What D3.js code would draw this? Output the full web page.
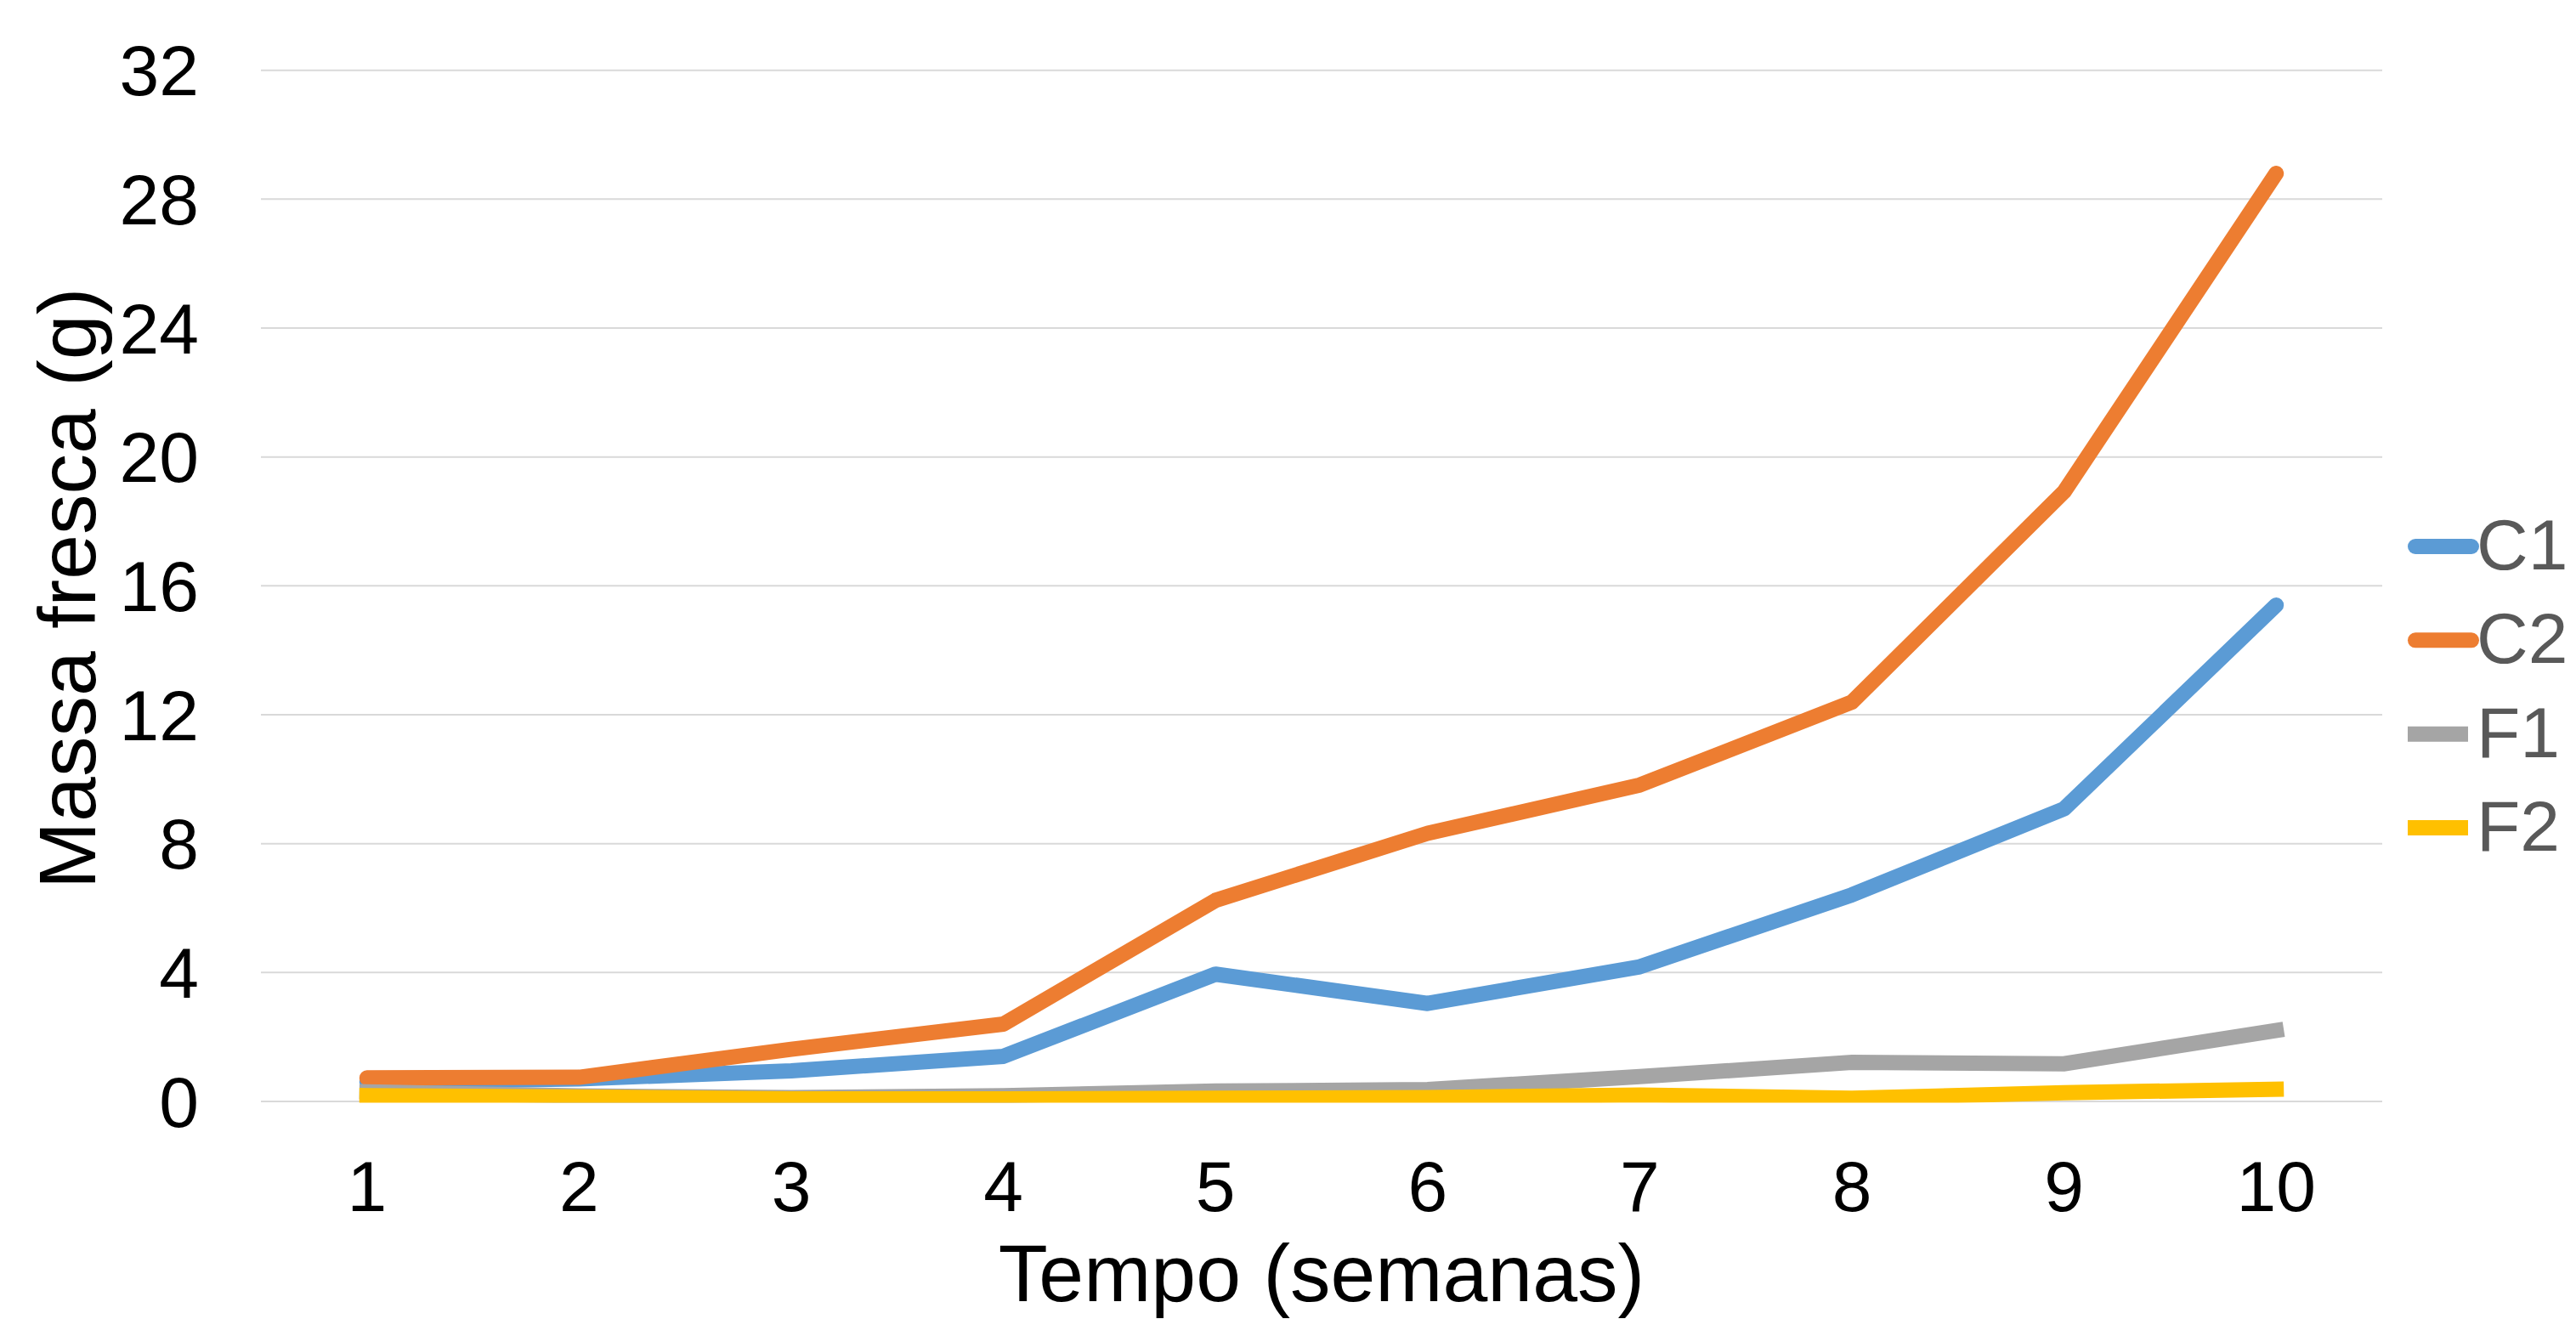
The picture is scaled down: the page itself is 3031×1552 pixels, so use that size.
<!DOCTYPE html>
<html>
<head>
<meta charset="utf-8">
<script src="https://cdn.jsdelivr.net/npm/d3@7"></script>
<style>
  html, body { margin: 0; padding: 0; background: #ffffff; }
  svg { display: block; }
  text { font-family: "Liberation Sans", Arial, sans-serif; }
</style>
</head>
<body>
<svg id="chart" width="3031" height="1552"></svg>
<script>
// Fresh mass per week for each treatment
const weeks = ["1", "2", "3", "4", "5", "6", "7", "8", "9", "10"];
const seriesNames = ["C1", "C2", "F1", "F2"];
const c1Values = [0.6, 0.7, 0.95, 1.4, 3.95, 3.04, 4.18, 6.41, 9.08, 15.4];
const c2Values = [0.73, 0.75, 1.62, 2.4, 6.24, 8.32, 9.82, 12.39, 18.92, 28.8];
const f1Values = [0.3, 0.17, 0.12, 0.18, 0.32, 0.37, 0.77, 1.21, 1.17, 2.2];
const f2Values = [0.18, 0.14, 0.08, 0.08, 0.1, 0.12, 0.2, 0.1, 0.27, 0.38];
const yTicks = [0, 4, 8, 12, 16, 20, 24, 28, 32];
const xTitle = "Tempo (semanas)";
const yTitle = "Massa fresca (g)";

const series = [
  { name: seriesNames[0], values: c1Values, color: "#5B9BD5", cap: "round", join: "round" },
  { name: seriesNames[1], values: c2Values, color: "#ED7D31", cap: "round", join: "round" },
  { name: seriesNames[2], values: f1Values, color: "#A5A5A5", cap: "square", join: "miter" },
  { name: seriesNames[3], values: f2Values, color: "#FFC000", cap: "square", join: "miter" }
];

const svg = d3.select("#chart");
const plot = { left: 307, right: 2803, top: 82.7, bottom: 1296 };

const x = d3.scaleBand().domain(weeks).range([plot.left, plot.right]).padding(0);
const y = d3.scaleLinear().domain([0, 32]).range([plot.bottom, plot.top]);
const cx = d => x(d) + x.bandwidth() / 2;

// horizontal gridlines
svg.append("g")
  .selectAll("line")
  .data(yTicks)
  .join("line")
  .attr("x1", plot.left)
  .attr("x2", plot.right)
  .attr("y1", d => y(d))
  .attr("y2", d => y(d))
  .attr("stroke", "#D9D9D9")
  .attr("stroke-width", 2);

// y axis labels
const yAxis = d3.axisLeft(y).tickValues(yTicks).tickSize(0).tickPadding(0).tickFormat(d3.format("d"));
const gy = svg.append("g").attr("transform", "translate(234,0)").call(yAxis);
gy.select(".domain").remove();
gy.selectAll("text")
  .attr("fill", "#000")
  .attr("font-size", 84)
  .attr("font-family", "'Liberation Sans', Arial, sans-serif")
  .attr("text-anchor", "end")
  .attr("dy", null)
  .attr("y", 29);

// x axis labels
const xAxis = d3.axisBottom(x).tickSize(0).tickPadding(0);
const gx = svg.append("g").attr("transform", "translate(0,1425)").call(xAxis);
gx.select(".domain").remove();
gx.selectAll("text")
  .attr("fill", "#000")
  .attr("font-size", 84)
  .attr("font-family", "'Liberation Sans', Arial, sans-serif")
  .attr("dy", null)
  .attr("y", 0);

// axis titles
svg.append("text")
  .attr("x", (plot.left + plot.right) / 2)
  .attr("y", 1531)
  .attr("text-anchor", "middle")
  .attr("font-size", 95)
  .attr("fill", "#000")
  .text(xTitle);

svg.append("text")
  .attr("transform", `translate(112,${(plot.top + plot.bottom) / 2 + 3}) rotate(-90)`)
  .attr("text-anchor", "middle")
  .attr("font-size", 95)
  .attr("fill", "#000")
  .text(yTitle);

// clip lines to plot area
svg.append("defs").append("clipPath").attr("id", "plotClip")
  .append("rect")
  .attr("x", 0).attr("y", 0)
  .attr("width", 3031).attr("height", plot.bottom + 1.5);

const line = d3.line()
  .x((d, i) => cx(weeks[i]))
  .y(d => y(d));

svg.append("g").attr("clip-path", "url(#plotClip)")
  .selectAll("path")
  .data(series)
  .join("path")
  .attr("d", s => line(s.values))
  .attr("fill", "none")
  .attr("stroke", s => s.color)
  .attr("stroke-width", 18)
  .attr("stroke-linecap", s => s.cap)
  .attr("stroke-linejoin", s => s.join);

// legend
const legend = svg.append("g");
const legendY = d3.scalePoint().domain(seriesNames).range([643, 974]);
const items = legend.selectAll("g").data(series).join("g")
  .attr("transform", s => `translate(0,${legendY(s.name)})`);
items.append("line")
  .attr("x1", 2842)
  .attr("x2", s => s.cap === "round" ? 2908 : 2895)
  .attr("y1", 0).attr("y2", 0)
  .attr("stroke", s => s.color)
  .attr("stroke-width", 18)
  .attr("stroke-linecap", s => s.cap);
items.append("text")
  .attr("x", 2914)
  .attr("y", 27)
  .attr("font-size", 84)
  .attr("fill", "#595959")
  .text(s => s.name);
</script>
</body>
</html>
